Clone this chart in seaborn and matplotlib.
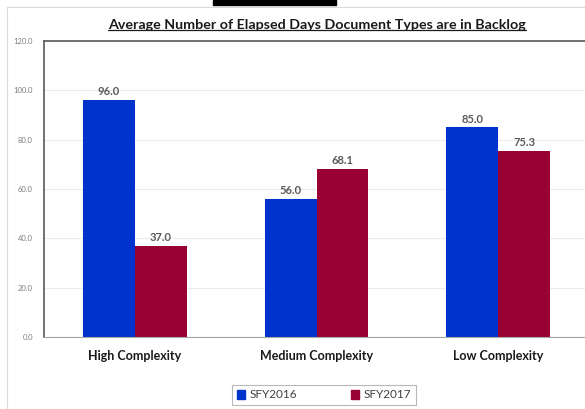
import pandas as pd
import matplotlib.pyplot as plt
import matplotlib.patches as mpatches
from matplotlib.lines import Line2D
import seaborn as sns

# data
categories = ["High Complexity", "Medium Complexity", "Low Complexity"]
years = ["SFY2016", "SFY2017"]
sfy2016 = [96.0, 56.0, 85.0]
sfy2017 = [37.0, 68.1, 75.3]
y_ticks = [0, 20, 40, 60, 80, 100, 120]

df = pd.DataFrame({
    "Category": categories * 2,
    "Year": [years[0]] * 3 + [years[1]] * 3,
    "Days": sfy2016 + sfy2017,
})

sns.set_style("white")
plt.rcParams['font.family'] = ['Lato', 'DejaVu Sans']

fig = plt.figure(figsize=(5.85, 4.09), dpi=100)
ax = fig.add_axes([44 / 585, 1 - 337 / 409, 545 / 585, (337 - 41) / 409])

palette = {"SFY2016": "#0033CC", "SFY2017": "#990033"}
sns.barplot(data=df, x="Category", y="Days", hue="Year", order=categories,
            hue_order=years, palette=palette, width=0.57, saturation=1,
            edgecolor="none", ax=ax)

# value labels on top of bars
for cont in ax.containers:
    ax.bar_label(cont, fmt="%.1f", padding=2, fontsize=8, fontweight="bold",
                 color="#595959")

ax.set_xlim(-0.5, 2.5)
ax.set_ylim(0, 120)
ax.set_yticks(y_ticks)
ax.set_yticklabels([f"{v:.1f}" for v in y_ticks], fontsize=5.5, color="#7f7f7f")
ax.tick_params(axis="y", length=0, pad=8)
ax.tick_params(axis="x", length=0, pad=9)
for lab in ax.get_xticklabels():
    lab.set_fontweight("bold")
    lab.set_fontsize(9)
    lab.set_color("#1a1a1a")
ax.set_xlabel("")
ax.set_ylabel("")
ax.yaxis.grid(True, color="#ebebeb", linewidth=0.8)
ax.set_axisbelow(True)

ax.spines["left"].set_color("#595959")
ax.spines["left"].set_linewidth(1.2)
ax.spines["top"].set_color("#595959")
ax.spines["top"].set_linewidth(1.2)
ax.spines["bottom"].set_color("#a6a6a6")
ax.spines["right"].set_visible(False)

# legend below chart
handles = [mpatches.Patch(color=palette[y]) for y in years]
ax.legend(handles, years, loc="center", bbox_to_anchor=(324 / 585, 1 - 395 / 409),
          bbox_transform=fig.transFigure, ncol=2, frameon=True, fancybox=False,
          edgecolor="#a6a6a6", fontsize=8.5, handlelength=0.7, handleheight=0.7,
          columnspacing=4.5, handletextpad=0.4, borderpad=0.4, borderaxespad=0)
leg = ax.get_legend()
leg.get_frame().set_linewidth(0.8)
for t in leg.get_texts():
    t.set_color("#404040")
leg._legend_box.sep = 0
leg.get_frame().set_boxstyle("square", pad=0)

# title with underline
title = fig.text(317 / 585, 1 - 25 / 409,
                 "Average Number of Elapsed Days Document Types are in Backlog",
                 ha="center", va="center", fontsize=10.3, fontweight="bold",
                 color="#1a1a1a")
fig.canvas.draw()
bb = title.get_window_extent().transformed(fig.transFigure.inverted())
fig.add_artist(Line2D([bb.x0, bb.x1], [bb.y0 + 0.002, bb.y0 + 0.002],
                      transform=fig.transFigure, color="#1a1a1a", linewidth=0.9))

# screenshot frame pieces
fig.add_artist(Line2D([7 / 585, 7 / 585], [0, 1 - 7 / 409], transform=fig.transFigure,
                      color="#d9d9d9", linewidth=0.8))
fig.add_artist(Line2D([7 / 585, 1], [1 - 7 / 409, 1 - 7 / 409], transform=fig.transFigure,
                      color="#d9d9d9", linewidth=0.8))
fig.add_artist(mpatches.Rectangle((213 / 585, 1 - 5 / 409), 123 / 585, 5 / 409,
                                  transform=fig.transFigure, color="black"))

fig.savefig("out.png", dpi=100)
